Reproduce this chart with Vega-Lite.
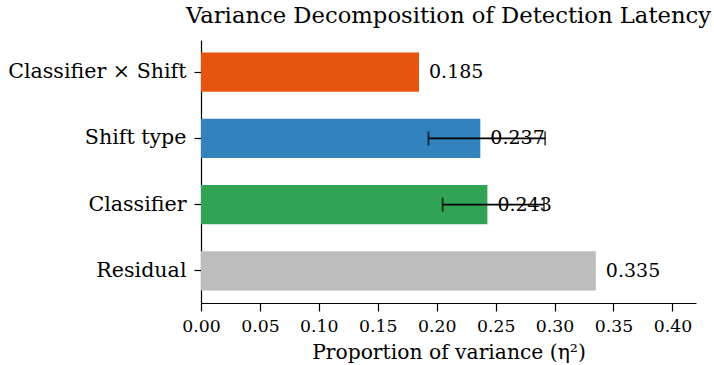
{
  "$schema": "https://vega.github.io/schema/vega-lite/v6.json",
  "width": 495,
  "height": 263,
  "autosize": {"type": "none"},
  "padding": {"left": 201, "top": 40, "right": 18, "bottom": 62},
  "background": "white",
  "title": {"text": "Variance Decomposition of Detection Latency", "font": "DejaVu Serif", "fontSize": 22.7, "fontWeight": "normal", "anchor": "middle", "offset": 12, "color": "black"},
  "config": {
    "view": {"stroke": null},
    "axis": {"labelFont": "DejaVu Serif", "titleFont": "DejaVu Serif", "labelColor": "black", "titleColor": "black", "domainColor": "black", "tickColor": "black", "grid": false}
  },
  "data": {"values": [
    {"component": "Classifier × Shift", "eta": 0.185, "label": "0.185", "color": "#e6550d"},
    {"component": "Shift type", "eta": 0.237, "label": "0.237", "lo": 0.193, "hi": 0.292, "color": "#3182bd"},
    {"component": "Classifier", "eta": 0.243, "label": "0.243", "lo": 0.205, "hi": 0.291, "color": "#31a354"},
    {"component": "Residual", "eta": 0.335, "label": "0.335", "color": "#bdbdbd"}
  ]},
  "encoding": {
    "y": {"field": "component", "type": "nominal", "sort": null,
      "scale": {"paddingInner": 0.41, "paddingOuter": 0.19},
      "axis": {"title": null, "labelFontSize": 20.6, "labelPadding": 8, "tickSize": 7, "domainWidth": 1.2, "tickWidth": 1.2}}
  },
  "layer": [
    {
      "mark": {"type": "bar"},
      "encoding": {
        "x": {"field": "eta", "type": "quantitative", "scale": {"domain": [0, 0.42], "nice": false},
          "axis": {"title": "Proportion of variance (η²)", "titleFontSize": 20.3, "titleFontWeight": "normal", "labelFontSize": 17.3, "values": [0, 0.05, 0.1, 0.15, 0.2, 0.25, 0.3, 0.35, 0.4], "format": ".2f", "tickSize": 8, "labelPadding": 6, "titlePadding": 8, "labelFlush": false, "domainWidth": 1.2, "tickWidth": 1.2}},
        "color": {"field": "color", "type": "nominal", "scale": null}
      }
    },
    {
      "mark": {"type": "text", "align": "left", "baseline": "middle", "dx": 10, "font": "DejaVu Serif", "fontSize": 19, "color": "black"},
      "encoding": {
        "x": {"field": "eta", "type": "quantitative"},
        "text": {"field": "label"}
      }
    },
    {
      "transform": [{"filter": "isValid(datum.lo)"}],
      "mark": {"type": "rule", "color": "black", "strokeWidth": 1.8},
      "encoding": {
        "x": {"field": "lo", "type": "quantitative"},
        "x2": {"field": "hi"}
      }
    },
    {
      "transform": [{"filter": "isValid(datum.lo)"}],
      "mark": {"type": "tick", "orient": "vertical", "color": "black", "size": 14, "thickness": 1.8},
      "encoding": {
        "x": {"field": "lo", "type": "quantitative"}
      }
    },
    {
      "transform": [{"filter": "isValid(datum.lo)"}],
      "mark": {"type": "tick", "orient": "vertical", "color": "black", "size": 14, "thickness": 1.8},
      "encoding": {
        "x": {"field": "hi", "type": "quantitative"}
      }
    }
  ]
}
